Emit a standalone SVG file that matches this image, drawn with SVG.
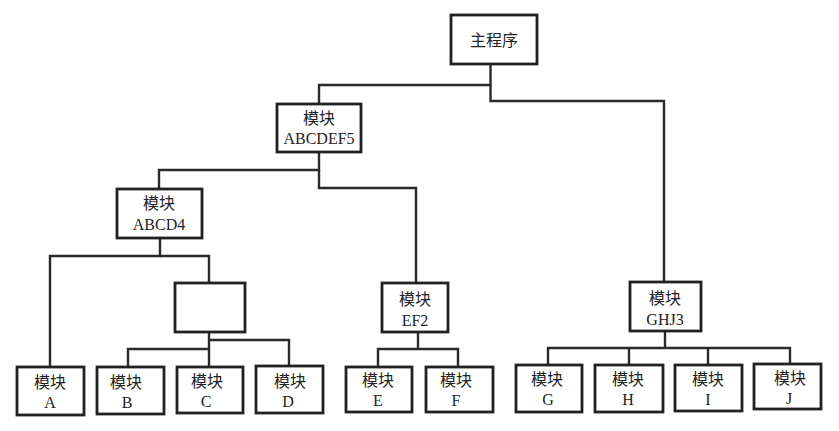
<svg xmlns="http://www.w3.org/2000/svg" width="839" height="431" viewBox="0 0 839 431">
<style>
.box{fill:#fff;stroke:#222;stroke-width:2.8}
.ln{fill:none;stroke:#2a2a2a;stroke-width:2.4}
.t{font-family:"Liberation Serif","Noto Sans CJK SC",serif;font-size:16px;fill:#222;text-anchor:middle}
</style>
<rect width="839" height="431" fill="#fff"/>
<g id="connectors">
<polyline class="ln" points="490.5,64 490.5,85 319,85 319,104"/>
<polyline class="ln" points="490.5,85 490.5,101 664,101 664,282"/>
<polyline class="ln" points="319,152 319,170 159,170 159,189"/>
<polyline class="ln" points="319,170 319,188 416,188 416,283"/>
<polyline class="ln" points="160,238 160,256 50,256 50,367"/>
<polyline class="ln" points="160,256 209,256 209,283"/>
<polyline class="ln" points="209,332 209,367"/>
<polyline class="ln" points="209,349 128,349 128,367"/>
<polyline class="ln" points="209,340 289,340 289,366"/>
<polyline class="ln" points="418,332 418,349"/>
<polyline class="ln" points="378,367 378,349 458,349 458,367"/>
<polyline class="ln" points="665,331 665,348"/>
<polyline class="ln" points="548,365 548,348 790,348 790,364"/>
<polyline class="ln" points="629,348 629,365"/>
<polyline class="ln" points="708,348 708,365"/>
</g>
<g id="main"><rect class="box" x="451" y="15" width="86" height="49"/><text class="t" x="494" y="46">主程序</text></g>
<g id="abcdef5"><rect class="box" x="277" y="104" width="84" height="48"/><text class="t" x="319" y="124">模块</text><text class="t" x="319" y="144">ABCDEF5</text></g>
<g id="abcd4"><rect class="box" x="117" y="189" width="85" height="49"/><text class="t" x="159" y="209">模块</text><text class="t" x="159" y="230">ABCD4</text></g>
<g id="empty"><rect class="box" x="175" y="283" width="70" height="49"/></g>
<g id="ef2"><rect class="box" x="382" y="283" width="66" height="49"/><text class="t" x="415" y="305">模块</text><text class="t" x="415" y="326">EF2</text></g>
<g id="ghj3"><rect class="box" x="630" y="282" width="71" height="49"/><text class="t" x="665" y="304">模块</text><text class="t" x="665" y="325">GHJ3</text></g>
<g id="a"><rect class="box" x="17" y="367" width="67" height="48"/><text class="t" x="50" y="388">模块</text><text class="t" x="50" y="408">A</text></g>
<g id="b"><rect class="box" x="97" y="367" width="67" height="47"/><text class="t" x="126" y="388">模块</text><text class="t" x="127" y="408">B</text></g>
<g id="c"><rect class="box" x="177" y="367" width="66" height="46"/><text class="t" x="207" y="387">模块</text><text class="t" x="206" y="407">C</text></g>
<g id="d"><rect class="box" x="256" y="366" width="67" height="47"/><text class="t" x="290" y="387">模块</text><text class="t" x="288" y="407">D</text></g>
<g id="e"><rect class="box" x="346" y="367" width="66" height="45"/><text class="t" x="378" y="386">模块</text><text class="t" x="378" y="406">E</text></g>
<g id="f"><rect class="box" x="426" y="367" width="67" height="45"/><text class="t" x="456" y="386">模块</text><text class="t" x="456" y="406">F</text></g>
<g id="g"><rect class="box" x="516" y="365" width="66" height="47"/><text class="t" x="547" y="385">模块</text><text class="t" x="548" y="405">G</text></g>
<g id="h"><rect class="box" x="595" y="365" width="68" height="47"/><text class="t" x="628" y="385">模块</text><text class="t" x="628" y="405">H</text></g>
<g id="i"><rect class="box" x="675" y="365" width="67" height="46"/><text class="t" x="708" y="385">模块</text><text class="t" x="708" y="405">I</text></g>
<g id="j"><rect class="box" x="754" y="364" width="67" height="45"/><text class="t" x="790" y="384">模块</text><text class="t" x="789" y="404">J</text></g>
</svg>
